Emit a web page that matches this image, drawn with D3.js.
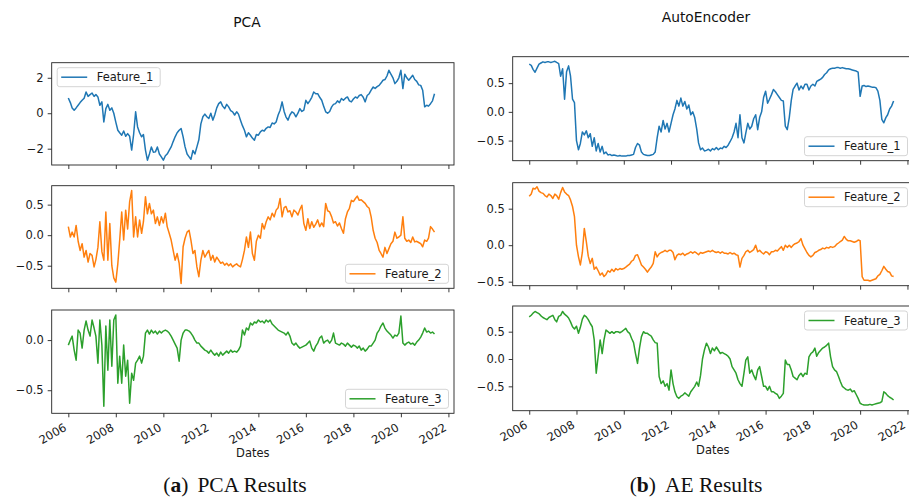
<!DOCTYPE html>
<html><head><meta charset="utf-8">
<script src="https://cdn.jsdelivr.net/npm/d3@7"></script>
<style>body{margin:0;background:#fff}svg{display:block}</style>
</head><body>
<svg id="chart" width="909" height="501"></svg>
<script>
// monthly observations, Jan 2006 .. Jun 2021
const startMonth = new Date(2006, 0, 1);
const endMonth = new Date(2021, 6, 1);

const pcaF1 = [
 0.86,0.6,0.3,0.17,0.3,0.45,0.6,0.73,0.85,1.2,0.95,1.05,
 1.14,0.95,1.05,0.92,0.45,0.64,-0.49,0.26,0.5,0.17,0.3,0.0,
 -0.5,-0.96,-1.1,-1.24,-1.0,-1.3,-1.15,-1.3,-2.08,-1.2,0.08,-0.77,
 -1.1,-1.33,-1.2,-2.08,-2.65,-2.3,-1.9,-2.2,-2.18,-1.9,-2.3,-2.46,
 -2.65,-2.4,-2.3,-2.1,-1.9,-1.6,-1.33,-1.1,-0.96,-0.86,-1.33,-1.9,
 -2.3,-2.46,-2.6,-2.1,-2.3,-1.9,-1.5,-0.6,-0.2,-0.05,-0.2,-0.3,
 0.0,-0.39,-0.1,0.3,0.54,0.64,0.4,0.26,0.5,0.36,0.15,0.08,
 -0.1,0.08,-0.05,-0.39,-0.7,-0.96,-1.33,-1.1,-1.24,-1.4,-1.52,-1.2,
 -1.24,-1.05,-0.96,-1.0,-0.85,-0.77,-0.8,-0.55,-0.6,-0.49,-0.1,0.17,
 0.64,0.1,-0.2,-0.39,-0.1,0.08,0.0,-0.2,0.0,0.26,0.1,0.17,
 0.73,0.54,0.7,0.9,1.2,1.1,1.1,0.9,0.73,0.4,0.08,0.0,
 0.1,0.36,0.5,0.54,0.7,0.6,0.83,0.73,0.85,0.92,0.7,0.64,
 0.8,0.92,0.85,1.0,1.05,0.9,0.64,1.0,1.1,1.3,1.48,1.4,
 1.5,1.57,1.7,1.86,1.9,2.1,2.42,2.2,2.0,1.67,1.8,2.0,
 2.42,1.39,2.2,2.0,1.86,2.0,2.14,1.9,1.8,1.6,1.57,1.3,
 0.36,0.45,0.4,0.54,0.7,1.1
];
const pcaF2 = [
 0.14,-0.03,0.05,-0.03,0.16,-0.1,-0.25,-0.14,-0.36,-0.25,-0.44,-0.3,
 -0.33,-0.52,-0.4,-0.2,0.22,-0.27,-0.41,0.38,-0.41,0.19,-0.5,-0.7,
 -0.77,-0.47,-0.08,0.38,-0.08,0.41,0.1,0.55,0.73,-0.03,0.3,-0.03,
 0.25,0.03,0.22,0.63,0.35,0.52,0.35,0.41,0.19,0.3,0.16,0.3,
 0.2,0.36,0.14,0.03,-0.08,-0.25,-0.41,-0.3,-0.46,-0.79,-0.19,-0.05,
 0.05,0.08,-0.08,-0.3,-0.25,-0.52,-0.68,-0.41,-0.25,-0.36,-0.3,-0.25,
 -0.41,-0.33,-0.44,-0.36,-0.41,-0.46,-0.44,-0.49,-0.46,-0.5,-0.47,-0.52,
 -0.49,-0.47,-0.5,-0.52,-0.4,-0.25,-0.03,-0.2,0.05,-0.3,-0.41,-0.1,
 0.0,-0.05,0.19,0.1,0.22,0.3,0.25,0.36,0.3,0.41,0.45,0.6,
 0.3,0.45,0.47,0.38,0.4,0.3,0.41,0.38,0.33,0.42,0.49,0.19,
 0.08,0.27,0.11,0.22,0.13,0.18,0.25,0.14,0.2,0.14,0.52,0.4,
 0.38,0.3,0.2,0.22,0.15,0.2,0.11,0.03,0.27,0.38,0.44,0.57,
 0.55,0.6,0.64,0.57,0.58,0.55,0.52,0.47,0.44,0.3,0.08,-0.05,
 -0.12,-0.25,-0.3,-0.36,-0.2,-0.3,-0.22,-0.14,-0.1,0.05,-0.05,-0.03,
 0.0,0.3,-0.05,-0.1,-0.08,-0.12,-0.03,-0.11,-0.1,-0.12,-0.14,-0.19,
 -0.08,-0.1,-0.05,0.14,0.1,0.05
];
const pcaF3 = [
 -0.05,0.0,0.04,-0.1,-0.2,0.1,0.07,-0.08,0.1,0.19,0.1,0.04,
 0.2,0.12,0.04,-0.23,0.2,-0.05,-0.66,0.14,-0.3,0.2,-0.26,0.2,
 0.25,-0.43,-0.16,-0.43,-0.05,-0.36,-0.2,-0.63,-0.33,-0.4,-0.23,-0.2,
 -0.16,-0.23,-0.16,0.07,0.1,0.06,0.1,0.07,0.09,0.06,0.09,0.07,
 0.09,0.1,0.09,0.07,0.04,0.0,-0.04,-0.08,-0.21,0.0,0.07,0.1,
 0.1,0.09,0.07,0.04,0.0,-0.03,-0.03,-0.06,-0.08,-0.1,-0.11,-0.13,
 -0.1,-0.13,-0.15,-0.13,-0.16,-0.12,-0.15,-0.13,-0.11,-0.13,-0.1,-0.12,
 -0.11,-0.12,-0.1,-0.06,0.1,0.05,0.12,0.1,0.17,0.15,0.18,0.17,
 0.2,0.18,0.19,0.17,0.2,0.18,0.2,0.16,0.14,0.12,0.1,0.09,
 0.08,0.07,0.05,0.08,0.04,-0.03,-0.05,-0.03,-0.06,-0.08,-0.07,-0.06,
 -0.05,-0.03,-0.01,-0.08,-0.11,-0.06,-0.03,0.02,0.04,-0.03,-0.01,0.0,
 -0.03,0.0,0.07,-0.03,-0.04,-0.05,-0.03,-0.04,-0.06,-0.03,-0.05,-0.07,
 -0.05,-0.06,-0.08,-0.06,-0.1,-0.08,-0.11,-0.09,-0.06,-0.06,-0.03,0.0,
 0.07,0.1,0.14,0.17,0.12,0.09,0.07,0.05,0.02,0.05,0.04,0.07,
 0.24,-0.03,-0.05,-0.03,-0.02,-0.04,-0.03,-0.05,-0.02,0.0,0.03,0.07,
 0.12,0.08,0.09,0.07,0.08,0.06
];
const aeF1 = [
 0.83,0.81,0.74,0.69,0.76,0.83,0.85,0.87,0.86,0.87,0.87,0.86,
 0.87,0.88,0.86,0.84,0.62,0.75,0.22,0.7,0.8,0.62,0.22,0.16,
 -0.5,-0.66,-0.55,-0.35,-0.4,-0.33,-0.45,-0.38,-0.6,-0.45,-0.68,-0.55,
 -0.7,-0.6,-0.73,-0.7,-0.75,-0.74,-0.76,-0.75,-0.76,-0.77,-0.76,-0.77,
 -0.77,-0.77,-0.76,-0.76,-0.75,-0.74,-0.62,-0.55,-0.58,-0.7,-0.74,-0.75,
 -0.76,-0.76,-0.75,-0.74,-0.7,-0.45,-0.25,-0.35,-0.15,-0.3,-0.2,-0.35,
 -0.2,-0.05,0.05,0.2,0.1,0.24,0.1,0.18,0.05,0.12,-0.05,0.0,
 -0.1,-0.3,-0.54,-0.66,-0.63,-0.68,-0.67,-0.65,-0.68,-0.64,-0.66,-0.62,
 -0.66,-0.63,-0.64,-0.6,-0.62,-0.58,-0.52,-0.45,-0.35,-0.2,-0.45,-0.05,
 -0.45,-0.54,-0.37,-0.2,-0.3,-0.25,-0.12,-0.05,-0.31,-0.1,0.0,0.25,
 0.36,0.15,0.22,0.3,0.39,0.35,0.3,0.25,0.2,0.19,-0.25,-0.31,
 -0.1,0.2,0.39,0.45,0.5,0.38,0.45,0.4,0.48,0.48,0.38,0.45,
 0.48,0.45,0.53,0.55,0.57,0.6,0.65,0.68,0.73,0.75,0.76,0.76,
 0.77,0.77,0.76,0.77,0.76,0.75,0.75,0.74,0.73,0.72,0.71,0.69,
 0.27,0.45,0.46,0.44,0.45,0.44,0.43,0.43,0.42,0.36,0.2,-0.13,
 -0.19,-0.1,-0.05,0.05,0.1,0.19
];
const aeF2 = [
 0.67,0.7,0.78,0.77,0.8,0.74,0.72,0.71,0.68,0.66,0.7,0.68,
 0.64,0.7,0.68,0.63,0.72,0.79,0.73,0.7,0.68,0.62,0.53,0.39,
 0.0,-0.16,-0.27,-0.1,0.23,0.05,-0.15,-0.25,-0.18,-0.33,-0.3,-0.35,
 -0.41,-0.38,-0.43,-0.4,-0.35,-0.37,-0.33,-0.36,-0.32,-0.34,-0.32,-0.33,
 -0.32,-0.3,-0.28,-0.26,-0.22,-0.2,-0.14,-0.13,-0.2,-0.27,-0.3,-0.33,
 -0.37,-0.33,-0.3,-0.25,-0.09,-0.16,-0.12,-0.1,-0.09,-0.07,-0.09,-0.07,
 -0.07,-0.1,-0.2,-0.14,-0.12,-0.13,-0.11,-0.14,-0.12,-0.11,-0.09,-0.11,
 -0.09,-0.11,-0.13,-0.1,-0.11,-0.1,-0.09,-0.08,-0.09,-0.07,-0.09,-0.1,
 -0.09,-0.11,-0.09,-0.11,-0.11,-0.12,-0.1,-0.12,-0.11,-0.13,-0.14,-0.3,
 -0.18,-0.14,-0.09,-0.07,-0.1,-0.08,-0.06,0.0,-0.09,-0.07,-0.1,-0.12,
 -0.09,-0.1,-0.13,-0.09,-0.09,-0.07,-0.08,-0.05,-0.02,-0.07,0.0,-0.03,
 0.0,-0.03,0.0,0.02,0.03,0.05,0.09,0.0,-0.05,-0.1,-0.14,-0.16,
 -0.14,-0.1,-0.09,-0.07,-0.06,-0.04,-0.05,-0.03,-0.04,-0.02,-0.03,-0.02,
 0.01,0.03,0.05,0.07,0.12,0.08,0.06,0.06,0.05,0.04,0.05,0.07,
 0.06,-0.43,-0.48,-0.48,-0.48,-0.49,-0.48,-0.47,-0.46,-0.42,-0.4,-0.35,
 -0.29,-0.33,-0.36,-0.37,-0.42,-0.43
];
const aeF3 = [
 0.77,0.8,0.84,0.87,0.85,0.83,0.79,0.76,0.74,0.72,0.76,0.78,
 0.8,0.72,0.68,0.78,0.8,0.87,0.82,0.79,0.75,0.68,0.59,0.55,
 0.6,0.47,0.58,0.73,0.8,0.77,0.72,0.65,0.59,0.35,-0.26,0.05,
 0.35,0.1,0.35,0.53,0.5,0.47,0.5,0.47,0.5,0.5,0.48,0.5,
 0.53,0.56,0.5,0.47,0.38,0.3,0.1,-0.08,0.2,0.41,0.5,0.47,
 0.47,0.44,0.42,0.35,0.3,0.29,-0.32,-0.45,-0.4,-0.5,-0.45,-0.57,
 -0.2,-0.45,-0.6,-0.69,-0.72,-0.68,-0.66,-0.62,-0.65,-0.68,-0.6,-0.55,
 -0.5,-0.42,-0.5,-0.3,0.0,0.17,0.29,0.22,0.1,0.2,0.15,0.22,
 0.16,0.1,0.12,0.1,0.08,0.05,0.0,-0.14,-0.2,-0.26,-0.38,-0.45,
 -0.5,-0.26,-0.02,0.04,-0.26,-0.2,-0.3,-0.38,-0.2,-0.14,-0.32,-0.5,
 -0.5,-0.57,-0.5,-0.6,-0.6,-0.63,-0.65,-0.72,-0.68,-0.63,-0.02,-0.1,
 -0.1,-0.2,-0.32,-0.35,-0.38,-0.3,-0.26,-0.32,-0.26,-0.28,0.04,0.1,
 0.13,0.2,0.05,0.12,0.16,0.2,0.22,0.25,0.29,0.04,-0.14,-0.2,
 -0.23,-0.32,-0.41,-0.5,-0.53,-0.56,-0.57,-0.55,-0.6,-0.58,-0.65,-0.72,
 -0.81,-0.83,-0.84,-0.84,-0.84,-0.83,-0.84,-0.83,-0.82,-0.81,-0.8,-0.78,
 -0.6,-0.63,-0.67,-0.7,-0.72,-0.75
];

const seriesNames = ["Feature_1", "Feature_2", "Feature_3"];
const colors = ["#1f77b4", "#ff7f0e", "#2ca02c"];
const yTicksPCA = [[-2, 0, 2], [-0.5, 0.0, 0.5], [-0.5, 0.0]];
const yTicksAE = [[-0.5, 0.0, 0.5], [-0.5, 0.0, 0.5], [-0.5, 0.0, 0.5]];
const titles = ["PCA", "AutoEncoder"];
const captionLabels = ["a", "b"];
const captionTexts = ["PCA Results", "AE Results"];
const xLabel = "Dates";

// ---------- layout ----------
const months = d3.timeMonth.range(startMonth, endMonth);
function decYear(y) {
  const yr = Math.floor(y);
  const a = new Date(yr, 0, 1), b = new Date(yr + 1, 0, 1);
  return new Date(+a + (y - yr) * (b - a));
}
const xDomain = [decYear(2005.3), decYear(2022.235)];

const svg = d3.select("#chart");
const FONT = "DejaVu Sans";
const FS = 11.5;

const columns = [
  { x0: 51.7, x1: 454, title: titles[0], titleX: 247, titleY: 26.7, cap: 0, capX: 235,
    panels: [
      { data: pcaF1, top: 62.7, bottom: 165, dom: [-2.92, 2.85], ticks: yTicksPCA[0], fmt: d3.format("d"), leg: "ul" },
      { data: pcaF2, top: 185.7, bottom: 288.3, dom: [-0.87, 0.81], ticks: yTicksPCA[1], fmt: d3.format(".1f"), leg: "lr" },
      { data: pcaF3, top: 310, bottom: 413.3, dom: [-0.73, 0.30], ticks: yTicksPCA[2], fmt: d3.format(".1f"), leg: "lr" }
    ] },
  { x0: 512.7, x1: 913, title: titles[1], titleX: 706, titleY: 21.7, cap: 1, capX: 696,
    panels: [
      { data: aeF1, top: 56.7, bottom: 160.7, dom: [-0.85, 0.96], ticks: yTicksAE[0], fmt: d3.format(".1f"), leg: "lr" },
      { data: aeF2, top: 182.7, bottom: 285.7, dom: [-0.555, 0.856], ticks: yTicksAE[1], fmt: d3.format(".1f"), leg: "ur" },
      { data: aeF3, top: 306, bottom: 410.7, dom: [-0.946, 0.97], ticks: yTicksAE[2], fmt: d3.format(".1f"), leg: "ur" }
    ] }
];

columns.forEach(col => {
  const x = d3.scaleTime().domain(xDomain).range([col.x0, col.x1]);
  svg.append("text").attr("x", col.titleX).attr("y", col.titleY)
    .attr("text-anchor", "middle").attr("font-family", FONT).attr("font-size", 13.8)
    .attr("fill", "#111").text(col.title);

  col.panels.forEach((p, i) => {
    const y = d3.scaleLinear().domain(p.dom).range([p.bottom, p.top]);
    const g = svg.append("g");
    const line = d3.line().x((d, j) => x(months[j])).y(d => y(d));
    g.append("path").datum(p.data).attr("d", line)
      .attr("fill", "none").attr("stroke", colors[i]).attr("stroke-width", 1.5)
      .attr("stroke-linejoin", "round");
    const ya = g.append("g").attr("transform", `translate(${col.x0},0)`)
      .call(d3.axisLeft(y).tickValues(p.ticks).tickFormat(p.fmt).tickSize(4).tickPadding(4));
    ya.select(".domain").remove();
    ya.selectAll("line").attr("stroke", "#222").attr("stroke-width", 0.9);
    ya.selectAll("text").attr("font-family", FONT).attr("font-size", FS).attr("fill", "#1a1a1a");
    const last = i === col.panels.length - 1;
    const xa = g.append("g").attr("transform", `translate(0,${p.bottom})`)
      .call(d3.axisBottom(x).ticks(d3.timeYear.every(2)).tickSize(4)
        .tickFormat(last ? d3.timeFormat("%Y") : () => ""));
    xa.select(".domain").remove();
    xa.selectAll("line").attr("stroke", "#222").attr("stroke-width", 0.9);
    if (last) {
      xa.selectAll("text").attr("y", 0).attr("dy", 0)
        .attr("transform", "translate(-1.5,16.5) rotate(-30)")
        .attr("text-anchor", "end").attr("font-family", FONT).attr("font-size", FS).attr("fill", "#1a1a1a");
      svg.append("text").attr("x", (col.x0 + col.x1) / 2).attr("y", p.bottom + 43.5)
        .attr("text-anchor", "middle").attr("font-family", FONT).attr("font-size", FS)
        .attr("fill", "#1a1a1a").text(xLabel);
    }
    g.append("rect").attr("x", col.x0).attr("y", p.top)
      .attr("width", col.x1 - col.x0).attr("height", p.bottom - p.top)
      .attr("fill", "none").attr("stroke", "#222").attr("stroke-width", 0.9);
    const lw = 103, lh = 19;
    const lx = p.leg.endsWith("r") ? col.x1 - 5.5 - lw : col.x0 + 5.5;
    const ly = p.leg.startsWith("l") ? p.bottom - 5 - lh : p.top + 5;
    const lg = g.append("g").attr("transform", `translate(${lx},${ly})`);
    lg.append("rect").attr("width", lw).attr("height", lh).attr("rx", 2.5)
      .attr("fill", "#fff").attr("fill-opacity", 0.8).attr("stroke", "#d0d0d0").attr("stroke-width", 0.9);
    lg.append("line").attr("x1", 4).attr("x2", 30).attr("y1", lh / 2).attr("y2", lh / 2)
      .attr("stroke", colors[i]).attr("stroke-width", 1.5);
    lg.append("text").attr("x", 39.5).attr("y", lh / 2).attr("dy", "0.36em")
      .attr("font-family", FONT).attr("font-size", FS).attr("fill", "#1a1a1a").text(seriesNames[i]);
  });

  const cap = svg.append("text").attr("x", col.capX).attr("y", 492.3).attr("text-anchor", "middle")
    .attr("font-family", "Liberation Serif").attr("font-size", 21.5).attr("fill", "#111");
  cap.append("tspan").text("(");
  cap.append("tspan").attr("font-weight", "bold").text(captionLabels[col.cap]);
  cap.append("tspan").text(")");
  cap.append("tspan").attr("dx", 9).text(captionTexts[col.cap]);
});
</script>
</body></html>
